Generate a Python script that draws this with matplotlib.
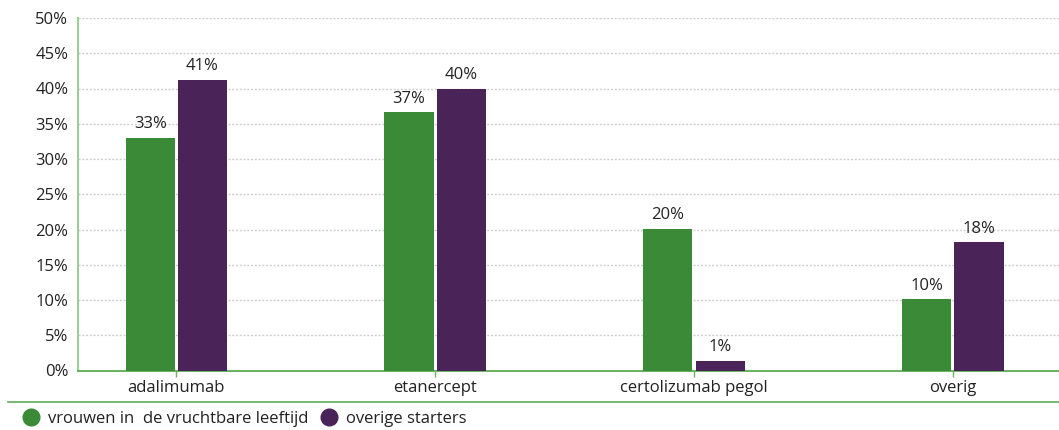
import numpy as np
import matplotlib.pyplot as plt
from matplotlib.lines import Line2D
from matplotlib.ticker import FuncFormatter, MultipleLocator

categories = ['adalimumab', 'etanercept', 'certolizumab pegol', 'overig']
vrouwen = [33.0, 36.6, 20.1, 10.1]
overig_starters = [41.2, 40.0, 1.4, 18.2]
series_names = ['vrouwen in  de vruchtbare leeftijd', 'overige starters']

green = '#3b8a37'
purple = '#4a2459'
text_col = '#222222'

plt.rcParams['font.family'] = ['Open Sans', 'DejaVu Sans']
plt.rcParams['font.size'] = 12

fig = plt.figure(figsize=(10.59, 4.30), dpi=100)
ax = fig.add_axes([78 / 1059, 59.5 / 430, 1 - 78 / 1059, (370.5 - 18) / 430])

x = np.arange(len(categories))
width = 0.19
gap = 0.006
b1 = ax.bar(x - width / 2 - gap, vrouwen, width, color=green, zorder=3)
b2 = ax.bar(x + width / 2 + gap, overig_starters, width, color=purple, zorder=3)

# waardes boven de staven
for bars, vals in ((b1, vrouwen), (b2, overig_starters)):
    for rect, v in zip(bars, vals):
        ax.text(rect.get_x() + rect.get_width() / 2, v + 0.8, '{:.0f}%'.format(v),
                ha='center', va='bottom', color=text_col, fontsize=12)

ax.set_xlim(-0.38, 3.41)
ax.set_ylim(0, 50)
ax.yaxis.set_major_locator(MultipleLocator(5))
ax.yaxis.set_major_formatter(FuncFormatter(lambda v, p: '{:.0f}%'.format(v)))
ax.set_xticks(x)
ax.set_xticklabels(categories)

ax.grid(axis='y', color='#cfcfcf', linestyle=(0, (1.5, 1.2)), linewidth=1.0, zorder=0)
ax.tick_params(axis='y', length=0, pad=7, colors=text_col, labelsize=12)
ax.tick_params(axis='x', length=4, width=1, color='#6cb363', pad=3,
               labelcolor=text_col, labelsize=12)

for s in ('top', 'right'):
    ax.spines[s].set_visible(False)
ax.spines['left'].set_color('#9dce96')
ax.spines['left'].set_linewidth(1.5)
ax.spines['bottom'].set_color('#6cb363')
ax.spines['bottom'].set_linewidth(1.5)

# scheidingslijn boven de legenda
fig.add_artist(Line2D([8 / 1059, 1.0], [1 - 402 / 430, 1 - 402 / 430],
                      color='#6cb363', linewidth=1.3))

handles = [Line2D([], [], marker='o', linestyle='none', markersize=12, color=green),
           Line2D([], [], marker='o', linestyle='none', markersize=12, color=purple)]
fig.legend(handles, series_names, loc='center left', bbox_to_anchor=(8 / 1059, 1 - 419 / 430),
           ncol=2, frameon=False, handletextpad=0.0, columnspacing=0.25,
           fontsize=12, labelcolor=text_col, borderaxespad=0)

fig.savefig('out.png', dpi=100)
